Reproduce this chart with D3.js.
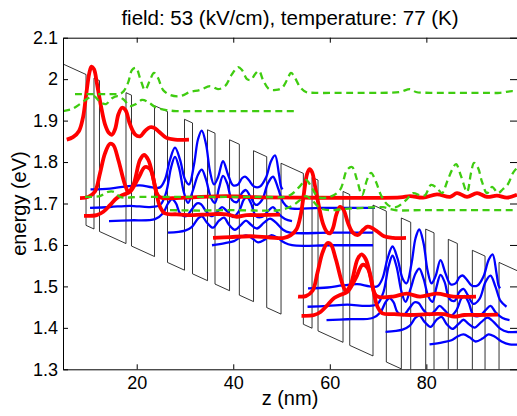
<!DOCTYPE html>
<html>
<head>
<meta charset="utf-8">
<script src="https://cdn.jsdelivr.net/npm/d3@7"></script>
<style>
  body { margin: 0; background: #fff; }
  text { font-family: "Liberation Sans", Arial, Helvetica, sans-serif; fill: #000; }
</style>
</head>
<body>
<div id="chart"></div>
<script>
// ---------------------------------------------------------------- data
var xTicks = [20, 40, 60, 80];
var yTicks = [1.3, 1.4, 1.5, 1.6, 1.7, 1.8, 1.9, 2, 2.1];

// layer interfaces (nm), first layer is a barrier, then well / barrier alternating
var zEdges = [4.73, 9.50, 11.15, 12.29, 17.78, 18.92, 23.69, 26.38, 29.90, 31.56, 34.67,
  36.22, 39.23, 41.26, 44.20, 46.93, 49.90, 54.52, 56.32, 57.56, 62.74, 64.13, 68.95,
  71.71, 74.82, 76.76, 79.87, 81.59, 84.55, 86.42, 89.53, 92.16, 95.06, 98.78];
var bandTop0 = 2.0616;   // barrier top at z = 0 (eV)
var fieldSlope = 0.0053; // eV per nm (53 kV/cm)
var bandOffset = 0.364;  // barrier height (eV)

// |psi|^2 curves : [z (nm), height above level (eV)]
var redLevels = [1.854, 1.715, 1.673, 1.617, 1.4755, 1.432];
var redA1 = [[5.50,0],[6.80,.006],[8.05,.021],[8.88,.054],[9.60,.115],[10.22,.163],[10.64,.176],[11.15,.170],[11.78,.134],[12.60,.081],[13.43,.037],[14.26,.016],[14.88,.012],[15.51,.025],[16.23,.062],[16.96,.077],[17.68,.071],[18.61,.037],[19.65,.013],[20.68,.008],[21.72,.021],[22.76,.030],[23.58,.029],[24.62,.019],[26.07,.005],[27.93,0],[30.83,0]];
var redC1 = [[8.25,-.002],[9.97,.001],[11.36,.014],[12.40,.058],[13.43,.106],[14.47,.129],[15.15,.126],[16.19,.090],[17.58,.030],[18.26,.014],[19.30,.030],[20.68,.090],[21.51,.102],[22.40,.090],[23.44,.046],[24.14,.010],[24.83,0],[28.29,-.002],[31.73,0],[38.65,.003],[42.08,.001],[45.54,0],[53.83,-.001],[74.55,0],[76.62,.003],[79.32,-.001],[82.21,.007],[84.90,.001],[86.36,.010],[88.43,.001],[90.50,.010],[92.57,.001],[94.64,.004],[96.72,-.001],[98.78,.006]];
var redD1 = [[9.08,-.003],[11.71,-.001],[13.08,.007],[14.47,.023],[15.86,.040],[17.22,.048],[18.61,.055],[20.33,.088],[21.72,.115],[22.76,.110],[23.79,.068],[24.83,.019],[25.87,.003],[28.29,.001],[31.73,-.001],[35.19,.001],[38.65,.001],[40.72,-.005],[42.79,-.001],[45.54,-.001],[49.69,0]];
var redA2 = [[35.81,0],[39.33,.002],[43.47,.004],[47.62,.001],[50.52,0],[51.86,.006],[53.11,.021],[53.93,.053],[54.66,.109],[55.28,.154],[55.80,.166],[56.32,.159],[56.94,.125],[57.77,.075],[58.60,.034],[59.43,.014],[60.04,.011],[60.67,.024],[61.39,.058],[62.12,.075],[62.84,.068],[63.77,.036],[64.81,.012],[65.85,.007],[66.88,.019],[67.82,.027],[68.75,.024],[69.79,.016],[71.24,.004],[73.10,0],[75.79,0]];
var redC2 = [[53.42,0],[55.03,.001],[56.42,.014],[57.46,.058],[58.49,.106],[59.53,.129],[60.21,.126],[61.25,.090],[62.63,.030],[63.32,.014],[64.35,.030],[65.74,.090],[66.57,.102],[67.46,.090],[68.50,.046],[69.20,.010],[69.88,0],[73.10,0],[75.94,.007],[78.69,0],[82.15,.007],[85.59,0],[90.29,0]];
var redD2 = [[54.14,-.003],[56.77,-.001],[58.14,.007],[59.53,.023],[60.91,.040],[62.28,.048],[63.67,.055],[65.39,.088],[66.78,.120],[67.81,.113],[68.85,.068],[69.88,.019],[70.92,.003],[73.35,.001],[76.78,-.001],[80.24,.001],[83.70,.001],[85.77,-.005],[87.85,-.001],[90.60,-.001],[94.85,0]];

var blueLevels = [1.7339, 1.4953, 1.6895, 1.4509, 1.6574, 1.4188, 1.6297, 1.3905, 1.5993, 1.3601];
var blue1a = [[10.43,0],[14.47,.002],[17.58,.007],[20.68,.010],[23.17,.005],[24.83,.005],[25.86,.024],[26.90,.072],[27.93,.101],[28.97,.072],[30.01,.024],[30.84,.012],[31.87,.060],[32.70,.121],[33.47,.142],[34.36,.109],[35.19,.043],[36.01,.012],[36.84,.029],[37.88,.068],[38.91,.036],[39.95,.010],[40.99,.012],[41.81,.027],[42.44,.031],[43.26,.022],[44.30,.007],[45.54,.007],[46.79,.029],[47.82,.068],[48.65,.082],[49.48,.036],[49.89,.007],[50.21,0]];
var blue1b = [[55.49,0],[59.53,.002],[62.64,.007],[65.74,.010],[68.23,.005],[69.89,.005],[70.92,.024],[71.96,.072],[72.99,.101],[74.03,.072],[75.07,.024],[75.90,.012],[76.93,.060],[77.76,.121],[78.53,.142],[79.42,.109],[80.25,.043],[81.07,.012],[81.90,.029],[82.94,.068],[83.97,.036],[85.01,.010],[86.05,.012],[86.87,.027],[87.50,.031],[88.32,.022],[89.36,.007],[90.60,.007],[91.85,.029],[92.88,.068],[93.71,.082],[94.54,.036],[94.95,.007],[95.27,0]];
var blue2a = [[10.33,0],[14.47,.002],[18.61,.005],[22.76,.002],[24.83,.007],[26.07,.036],[27.11,.097],[27.93,.123],[28.76,.097],[29.80,.036],[30.63,.012],[31.66,.043],[32.70,.080],[33.47,.092],[34.36,.068],[35.39,.024],[36.22,.012],[37.05,.048],[37.88,.077],[38.71,.060],[39.74,.019],[40.78,.014],[41.81,.036],[42.64,.043],[43.47,.029],[44.71,.007],[45.96,.019],[47.20,.060],[48.24,.075],[49.27,.048],[50.31,.014],[51.55,0],[57.97,0],[69.37,0]];
var blue2b = [[55.39,0],[59.53,.002],[63.67,.005],[67.82,.002],[69.89,.007],[71.13,.036],[72.17,.097],[72.99,.123],[73.82,.097],[74.86,.036],[75.69,.012],[76.72,.043],[77.76,.080],[78.53,.092],[79.42,.068],[80.45,.024],[81.28,.012],[82.11,.048],[82.94,.077],[83.77,.060],[84.80,.019],[85.84,.014],[86.87,.036],[87.70,.043],[88.53,.029],[89.77,.007],[91.02,.019],[92.26,.060],[93.30,.075],[94.33,.048],[95.37,.014],[96.61,0]];
var blue3a = [[14.26,0],[18.61,.002],[23.79,.005],[25.45,.019],[26.49,.043],[27.31,.053],[28.14,.043],[28.97,.019],[30.21,.012],[31.45,.029],[32.49,.043],[33.32,.041],[34.36,.024],[35.60,.012],[36.84,.024],[37.67,.034],[38.71,.024],[39.95,.010],[41.19,.024],[42.23,.053],[42.85,.058],[43.68,.043],[44.71,.012],[45.96,.010],[47.20,.024],[48.24,.034],[49.27,.019],[50.72,.005],[52.17,0]];
var blue3b = [[59.32,0],[63.67,.002],[68.85,.005],[70.51,.019],[71.55,.043],[72.37,.053],[73.20,.043],[74.03,.019],[75.27,.012],[76.51,.029],[77.55,.043],[78.38,.041],[79.42,.024],[80.66,.012],[81.90,.024],[82.73,.034],[83.77,.024],[85.01,.010],[86.25,.024],[87.29,.053],[87.91,.058],[88.74,.043],[89.77,.012],[91.02,.010],[92.26,.024],[93.30,.034],[94.33,.019],[95.78,.005],[97.23,0]];
var blue4a = [[26.49,0],[30.01,.005],[31.45,.014],[32.70,.034],[33.53,.039],[34.56,.024],[35.81,.012],[37.05,.029],[38.09,.036],[39.12,.019],[40.36,.007],[41.61,.019],[42.64,.029],[43.68,.019],[44.92,.010],[46.37,.024],[47.62,.034],[48.86,.024],[50.31,.007],[51.76,0],[60.04,0],[68.95,0]];
var blue4b = [[71.55,0],[75.07,.005],[76.51,.014],[77.76,.034],[78.59,.039],[79.62,.024],[80.87,.012],[82.11,.029],[83.15,.036],[84.18,.019],[85.42,.007],[86.67,.019],[87.70,.029],[88.74,.019],[89.98,.010],[91.43,.024],[92.68,.034],[93.92,.024],[95.37,.007],[96.82,0],[99.5,0]];
var blue5a = [[35.60,0],[38.29,.005],[40.16,.010],[41.40,.019],[42.64,.024],[43.88,.017],[45.13,.007],[46.58,.014],[47.82,.024],[49.06,.019],[50.52,.007],[52.17,0],[60.04,0],[68.95,0]];
var blue5b = [[80.66,0],[83.35,.005],[85.22,.010],[86.46,.019],[87.70,.024],[88.94,.017],[90.19,.007],[91.64,.014],[92.88,.024],[94.12,.019],[95.58,.007],[97.23,0],[99.5,0]];

// continuum states (dashed) : [z (nm), energy (eV)]
var greenA = [[7.22,1.964],[11.36,1.964],[14.47,1.964],[16.95,1.967],[18.20,1.991],[19.03,2.022],[19.86,2.027],[20.68,2.003],[21.72,1.974],[22.76,1.998],[23.58,2.015],[24.41,2.003],[25.45,1.974],[26.90,1.962],[28.97,1.959],[31.04,1.969],[33.11,1.974],[35.19,1.983],[36.84,1.976],[38.29,1.983],[39.74,2.012],[40.99,2.029],[41.81,2.022],[42.85,2.000],[43.68,1.998],[44.51,2.012],[45.34,2.020],[46.17,1.998],[47.41,1.976],[48.86,1.974],[50.10,1.979],[51.14,1.998],[51.97,2.015],[52.79,2.003],[53.83,1.981],[55.07,1.969],[56.94,1.967],[64.19,1.967],[70.40,1.967],[74.55,1.969],[76.62,1.976],[77.86,1.969],[80.76,1.967],[84.90,1.967],[91.12,1.967],[95.26,1.967],[97.75,1.971],[98.78,1.969]];
var greenB = [[4.73,1.923],[6.60,1.928],[8.25,1.940],[9.91,1.954],[11.15,1.959],[12.40,1.945],[13.64,1.940],[14.88,1.954],[16.13,1.959],[17.37,1.950],[18.61,1.935],[19.86,1.940],[21.10,1.950],[22.34,1.945],[23.79,1.933],[25.86,1.926],[28.14,1.923],[33.11,1.923],[39.33,1.923],[45.54,1.923],[52.79,1.923]];
var greenC = [[9.29,1.716],[12.40,1.718],[14.06,1.728],[15.30,1.728],[16.54,1.716],[20.68,1.716],[28.97,1.716],[37.26,1.716],[45.54,1.716],[50.72,1.716],[52.17,1.723],[53.83,1.742],[55.07,1.757],[56.32,1.737],[57.56,1.716],[60.04,1.716],[62.12,1.733],[63.57,1.781],[64.60,1.788],[65.64,1.757],[66.68,1.720],[67.71,1.757],[68.54,1.774],[69.58,1.752],[70.61,1.720],[72.06,1.696],[73.72,1.691],[75.79,1.708],[77.24,1.725],[78.69,1.720],[79.73,1.720],[80.97,1.745],[82.21,1.737],[83.25,1.725],[84.28,1.752],[85.32,1.781],[86.15,1.795],[87.19,1.766],[88.43,1.728],[89.26,1.774],[89.88,1.798],[90.71,1.786],[91.54,1.752],[92.57,1.725],[93.61,1.740],[94.85,1.725],[95.89,1.735],[96.92,1.747],[97.96,1.774],[98.78,1.786]];
var greenD = [[26.90,1.684],[33.11,1.683],[39.33,1.684],[45.54,1.683],[49.69,1.684],[52.17,1.694],[53.83,1.708],[55.07,1.718],[56.32,1.708],[57.97,1.689],[60.04,1.684],[63.15,1.687],[66.26,1.689],[69.37,1.691],[71.03,1.691],[73.51,1.684],[78.69,1.684],[84.90,1.684],[91.12,1.684],[98.78,1.684]];

// ---------------------------------------------------------------- layout
var margin = { top: 37.7, right: 0, bottom: 46.7, left: 63 },
  width = 517 - margin.left - margin.right,
  height = 416 - margin.top - margin.bottom;

var svg = d3.select("#chart")
  .append("svg")
  .attr("width", 517)
  .attr("height", 416)
  .append("g")
  .attr("transform", "translate(" + margin.left + "," + margin.top + ")");

var x = d3.scaleLinear().domain([4.73, 98.78]).range([0, width]);
var y = d3.scaleLinear().domain([1.3, 2.1]).range([height, 0]);

svg.append("clipPath").attr("id", "plotclip")
  .append("rect").attr("width", width).attr("height", height);

var plot = svg.append("g").attr("clip-path", "url(#plotclip)");

// band profile
var profile = [];
for (var i = 0; i < zEdges.length - 1; i++) {
  var off = (i % 2 === 0) ? 0 : bandOffset;
  [zEdges[i], zEdges[i + 1]].forEach(function (z) {
    profile.push([z, bandTop0 - fieldSlope * z - off]);
  });
}
plot.append("path")
  .datum(profile)
  .attr("fill", "none")
  .attr("stroke", "#000")
  .attr("stroke-width", 0.8)
  .attr("d", d3.line().x(function (d) { return x(d[0]); }).y(function (d) { return y(d[1]); }));

// wavefunctions
function waveLine(E) {
  return d3.line()
    .x(function (d) { return x(d[0]); })
    .y(function (d) { return y(E + d[1]); })
    .curve(d3.curveCatmullRom.alpha(0.5));
}

var blues = [blue1a, blue1b, blue2a, blue2b, blue3a, blue3b, blue4a, blue4b, blue5a, blue5b];
blues.forEach(function (pts, k) {
  plot.append("path").datum(pts)
    .attr("fill", "none").attr("stroke", "#0000ff").attr("stroke-width", 2.3)
    .attr("d", waveLine(blueLevels[k]));
});

var reds = [redA1, redC1, redD1, redA2, redC2, redD2];
reds.forEach(function (pts, k) {
  plot.append("path").datum(pts)
    .attr("fill", "none").attr("stroke", "#ff0000").attr("stroke-width", 3.8)
    .attr("stroke-linejoin", "round")
    .attr("d", waveLine(redLevels[k]));
});

[greenA, greenB, greenC, greenD].forEach(function (pts) {
  plot.append("path").datum(pts)
    .attr("fill", "none").attr("stroke", "#3fcc10").attr("stroke-width", 2.3)
    .attr("stroke-dasharray", "7,4.5")
    .attr("d", waveLine(0));
});

// ---------------------------------------------------------------- axes (box, ticks inside)
var tickFont = "18px";
svg.append("g")
  .attr("transform", "translate(0," + height + ")")
  .call(d3.axisBottom(x).tickValues(xTicks).tickSizeInner(-5).tickSizeOuter(0).tickPadding(7))
  .call(function (g) { g.selectAll("text").style("font-size", tickFont).style("font-family", null); });
svg.append("g")
  .call(d3.axisTop(x).tickValues(xTicks).tickSizeInner(-5).tickSizeOuter(0).tickFormat(""));
svg.append("g")
  .call(d3.axisLeft(y).tickValues(yTicks).tickSizeInner(-5).tickSizeOuter(0).tickPadding(5)
    .tickFormat(function (d) { return String(d); }))
  .call(function (g) { g.selectAll("text").style("font-size", tickFont).style("font-family", null); });
svg.append("g")
  .attr("transform", "translate(" + width + ",0)")
  .call(d3.axisRight(y).tickValues(yTicks).tickSizeInner(-7).tickSizeOuter(0).tickFormat(""));
svg.selectAll(".domain").attr("stroke", "#000").attr("stroke-width", 1);
svg.selectAll(".tick line").attr("stroke", "#000");

// labels
svg.append("text")
  .attr("x", width / 2).attr("y", 25 - margin.top)
  .attr("text-anchor", "middle").style("font-size", "20.5px")
  .text("field: 53 (kV/cm), temperature: 77 (K)");
svg.append("text")
  .attr("x", 290 - margin.left).attr("y", 405 - margin.top)
  .attr("text-anchor", "middle").style("font-size", "20px")
  .text("z (nm)");
svg.append("text")
  .attr("transform", "translate(" + (26 - margin.left) + "," + (height / 2) + ") rotate(-90)")
  .attr("text-anchor", "middle").style("font-size", "20px")
  .text("energy (eV)");
</script>
</body>
</html>
